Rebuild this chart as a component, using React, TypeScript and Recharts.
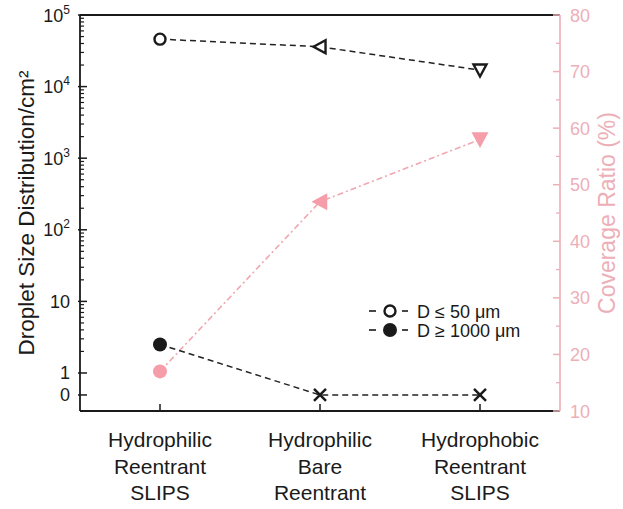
import React from "react";
import { ComposedChart, Line, XAxis, YAxis, ReferenceLine } from "recharts";

const categories = ["Hydrophilic Reentrant SLIPS", "Hydrophilic Bare Reentrant", "Hydrophobic Reentrant SLIPS"];
const categoryLines = [
  ["Hydrophilic", "Reentrant", "SLIPS"],
  ["Hydrophilic", "Bare", "Reentrant"],
  ["Hydrophobic", "Reentrant", "SLIPS"],
];
const smallDroplets = [46000, 36000, 17000];
const largeDroplets = [2.5, 0, 0];
const coverageRatio = [17, 47, 58];
const smallShapes = ["circle", "triLeft", "triDown"];
const largeShapes = ["circle", "x", "x"];
const coverageShapes = ["circle", "triLeft", "triDown"];
const leftTickValues = [0, 1, 10, 100, 1000, 10000, 100000];
const rightTickValues = [10, 20, 30, 40, 50, 60, 70, 80];
const legendItems = [
  { label: "D ≤ 50 μm", filled: false },
  { label: "D ≥ 1000 μm", filled: true },
];

const FONT = "'Liberation Sans', Arial, sans-serif";
const PINK = "#F59DA8";
const PINK_AXIS = "#EDAFB7";
const PINK_LINE = "#EFA7B0";
const DARK = "#1a1a1a";

const ZERO_POS = -0.307;
const tf = (v: number) => (v <= 0 ? ZERO_POS : Math.log10(v));

const data = categories.map((c, i) => ({
  name: c,
  small: tf(smallDroplets[i]),
  large: tf(largeDroplets[i]),
  coverage: coverageRatio[i],
}));

const majorLeft = leftTickValues.map(tf);
const minorLeft: number[] = [];
for (let d = 0; d < 5; d++) for (let k = 2; k <= 9; k++) minorLeft.push(d + Math.log10(k));
const leftTicks = [...majorLeft, ...minorLeft].sort((a, b) => a - b);

const rightTicks: number[] = [];
for (let v = 10; v <= 80; v += 5) rightTicks.push(v);

function Marker({ shape, cx, cy, color, filled }: any) {
  const sw = 2.4;
  if (shape === "circle") {
    return filled ? (
      <circle cx={cx} cy={cy} r={7} fill={color} stroke="none" />
    ) : (
      <circle cx={cx} cy={cy} r={5.5} fill="#fff" stroke={color} strokeWidth={sw} />
    );
  }
  if (shape === "triLeft") {
    const s = filled ? 8.5 : 6.5;
    const pts = `${cx - s},${cy} ${cx + s * 0.85},${cy - s} ${cx + s * 0.85},${cy + s}`;
    return <polygon points={pts} fill={filled ? color : "#fff"} stroke={filled ? "none" : color} strokeWidth={sw} strokeLinejoin="miter" />;
  }
  if (shape === "triDown") {
    const s = filled ? 8.5 : 6.5;
    const pts = `${cx - s},${cy - s * 0.85} ${cx + s},${cy - s * 0.85} ${cx},${cy + s}`;
    return <polygon points={pts} fill={filled ? color : "#fff"} stroke={filled ? "none" : color} strokeWidth={sw} strokeLinejoin="miter" />;
  }
  const s = 6;
  return (
    <g stroke={color} strokeWidth={sw}>
      <line x1={cx - s} y1={cy - s} x2={cx + s} y2={cy + s} />
      <line x1={cx - s} y1={cy + s} x2={cx + s} y2={cy - s} />
    </g>
  );
}

const makeDot = (shapes: string[], color: string, filledAll: boolean | null) => (props: any) => {
  const { cx, cy, index } = props;
  const filled = filledAll === null ? index === 0 : filledAll;
  return (
    <g key={`d-${index}-${color}`}>
      <Marker shape={shapes[index]} cx={cx} cy={cy} color={color} filled={filled} />
    </g>
  );
};

function LeftTick(props: any) {
  const { x, y, payload } = props;
  const v = payload.value;
  const mi = majorLeft.findIndex((m) => Math.abs(m - v) < 1e-6);
  if (mi < 0) {
    return <line x1={x} x2={x + 4} y1={y} y2={y} stroke={DARK} strokeWidth={1.2} />;
  }
  const raw = leftTickValues[mi];
  let label: React.ReactNode;
  if (raw <= 10) {
    label = (
      <text x={x - 10} y={y + 6.5} textAnchor="end" fontSize={18} fill={DARK} fontFamily={FONT}>
        {String(raw)}
      </text>
    );
  } else {
    const p = Math.round(Math.log10(raw));
    label = (
      <text x={x - 10} y={y + 6.5} textAnchor="end" fontSize={18} fill={DARK} fontFamily={FONT}>
        <tspan>10</tspan>
        <tspan dy={-8} fontSize={12}>{p}</tspan>
      </text>
    );
  }
  return (
    <g>
      <line x1={x - 2} x2={x + 7} y1={y} y2={y} stroke={DARK} strokeWidth={1.5} />
      {label}
    </g>
  );
}

function RightTick(props: any) {
  const { x, y, payload } = props;
  const v = payload.value;
  const major = rightTickValues.includes(v);
  if (!major) return <line x1={x} x2={x - 4} y1={y} y2={y} stroke={PINK_AXIS} strokeWidth={1.3} />;
  return (
    <g>
      <line x1={x} x2={x - 7} y1={y} y2={y} stroke={PINK_AXIS} strokeWidth={1.5} />
      <text x={x + 10} y={y + 6.5} textAnchor="start" fontSize={18} fill={PINK_AXIS} fontFamily={FONT}>
        {v}
      </text>
    </g>
  );
}

function BottomTick(props: any) {
  const { x, y, index } = props;
  const lines = categoryLines[index] || [];
  return (
    <g>
      <line x1={x} x2={x} y1={y} y2={y - 7} stroke={DARK} strokeWidth={1.5} />
      {lines.map((t, i) => (
        <text key={i} x={x} y={y + 36 + i * 26.5} textAnchor="middle" fontSize={21} fill={DARK} fontFamily={FONT}>
          {t}
        </text>
      ))}
    </g>
  );
}

function LegendBox() {
  return (
    <svg width={200} height={50} style={{ position: "absolute", left: 360, top: 296 }}>
      {legendItems.map((it, i) => {
        const cy = 15 + i * 19;
        return (
          <g key={i}>
            <line x1={9} x2={16} y1={cy} y2={cy} stroke={DARK} strokeWidth={1.6} />
            <line x1={42} x2={48} y1={cy} y2={cy} stroke={DARK} strokeWidth={1.6} />
            {it.filled ? (
              <circle cx={30} cy={cy} r={7} fill={DARK} />
            ) : (
              <circle cx={30} cy={cy} r={5.5} fill="#fff" stroke={DARK} strokeWidth={2.4} />
            )}
            <text x={57} y={cy + 6.5} fontSize={18} fill={DARK} fontFamily={FONT}>
              {it.label}
            </text>
          </g>
        );
      })}
    </svg>
  );
}

export default function App() {
  return (
    <div style={{ position: "absolute", left: 0, top: 0, width: 623, height: 509, background: "#fff" }}>
      <ComposedChart width={623} height={509} data={data} margin={{ top: 15, right: 0, bottom: 0, left: 0 }}>
        <XAxis
          dataKey="name"
          xAxisId="x"
          height={98}
          tickSize={0}
          tickMargin={0}
          tick={<BottomTick />}
          interval={0}
          padding={{ left: 80, right: 80 }}
          axisLine={{ stroke: DARK, strokeWidth: 1.8 }}
        />
        <YAxis
          yAxisId="left"
          type="number"
          domain={[-0.531, 5]}
          ticks={leftTicks}
          interval={0}
          width={80}
          tickSize={0}
          tickMargin={0}
          tick={<LeftTick />}
          axisLine={{ stroke: DARK, strokeWidth: 1.8 }}
          allowDataOverflow
          label={{
            value: "Droplet Size Distribution/cm²",
            angle: -90,
            position: "insideLeft",
            offset: 0,
            style: { fontSize: 22.5, fill: DARK, fontFamily: FONT, textAnchor: "middle" },
            dx: 26,
          }}
        />
        <YAxis
          yAxisId="right"
          orientation="right"
          type="number"
          domain={[10, 80]}
          ticks={rightTicks}
          interval={0}
          width={63}
          tickSize={0}
          tickMargin={0}
          tick={<RightTick />}
          axisLine={{ stroke: PINK_AXIS, strokeWidth: 1.6 }}
          allowDataOverflow
          label={{
            value: "Coverage Ratio (%)",
            angle: -90,
            position: "insideRight",
            offset: 0,
            style: { fontSize: 23, fill: PINK_AXIS, fontFamily: FONT, textAnchor: "middle" },
            dx: -16,
          }}
        />
        <ReferenceLine yAxisId="left" xAxisId="x" y={5} stroke={DARK} strokeWidth={1.8} />
        <Line
          xAxisId="x"
          yAxisId="right"
          dataKey="coverage"
          stroke={PINK_LINE}
          strokeWidth={1.6}
          strokeDasharray="6 3 2 3"
          dot={makeDot(coverageShapes, PINK, true)}
          isAnimationActive={false}
        />
        <Line
          xAxisId="x"
          yAxisId="left"
          dataKey="small"
          stroke="#222"
          strokeWidth={1.5}
          strokeDasharray="6 4"
          dot={makeDot(smallShapes, DARK, false)}
          isAnimationActive={false}
        />
        <Line
          xAxisId="x"
          yAxisId="left"
          dataKey="large"
          stroke="#222"
          strokeWidth={1.5}
          strokeDasharray="6 4"
          dot={makeDot(largeShapes, DARK, null)}
          isAnimationActive={false}
        />
      </ComposedChart>
      <LegendBox />
    </div>
  );
}
